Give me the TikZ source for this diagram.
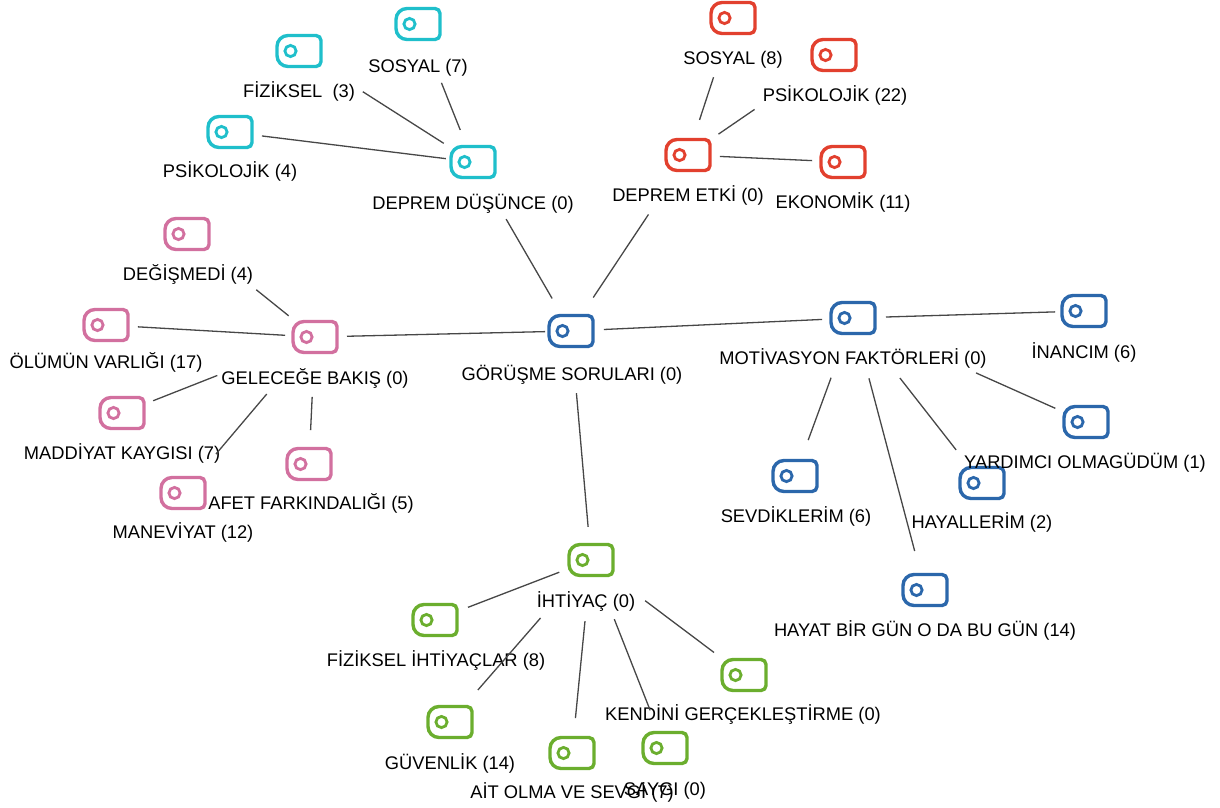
\documentclass[tikz,border=0pt]{standalone}
\usepackage{fontspec}
\setmainfont{Liberation Sans}
\definecolor{ccyan}{HTML}{1FBFCB}
\definecolor{cred}{HTML}{E2402E}
\definecolor{cpink}{HTML}{D2709F}
\definecolor{cblue}{HTML}{2B67AB}
\definecolor{cgreen}{HTML}{6BAE2E}
\definecolor{linec}{HTML}{474747}
\tikzset{
  iconbox/.style={rectangle, minimum width=47pt, minimum height=34pt, inner sep=0pt, draw=none},
  lbl/.style={inner sep=0pt, anchor=base, yshift=-6.6pt, text=black, font=\fontsize{18.3pt}{20pt}\selectfont},
  conn/.style={draw=linec, line width=1.3pt}
}
\newcommand{\codeicon}[3]{%
  \node[iconbox] (#1) at (#2) {};
  \draw[#3, line width=3.4pt] (#1.center) ++(0,-15.5) [rounded corners=5pt] -- ++(22,0) -- ++(0,31) -- ++(-22,0) [rounded corners=11pt] -- ++(-22,0) -- ++(0,-31) -- cycle;
  \draw[#3, line width=2.8pt] (#1.center) ++(-8.5,0) circle[radius=5.6pt];
}
\newcommand{\codelabel}[3]{%
  \node[lbl] (#1L) at (#2) {#3};
}
\newcommand{\conn}[4]{%
  \draw[conn, shorten <=#3pt, shorten >=#4pt] (#1.center) -- (#2.center);
}
\begin{document}
\begin{tikzpicture}[x=1pt, y=-1pt]
\useasboundingbox (0,0) rectangle (1220,807);
% icons
\codeicon{gor}{571,331}{cblue}
\codeicon{ddu}{473,162}{ccyan}
\codeicon{det}{688,155}{cred}
\codeicon{gel}{315,337}{cpink}
\codeicon{mot}{853,318}{cblue}
\codeicon{iht}{591,560}{cgreen}
\codeicon{sosa}{418,24}{ccyan}
\codeicon{fiza}{299,51}{ccyan}
\codeicon{psia}{230,132}{ccyan}
\codeicon{sosb}{733,18}{cred}
\codeicon{psib}{834,55}{cred}
\codeicon{eko}{843,162}{cred}
\codeicon{deg}{187,234}{cpink}
\codeicon{olu}{106,325}{cpink}
\codeicon{mad}{122,413}{cpink}
\codeicon{afet}{309,464}{cpink}
\codeicon{man}{183,493}{cpink}
\codeicon{inan}{1084,311}{cblue}
\codeicon{yard}{1086,422}{cblue}
\codeicon{hay}{982,483}{cblue}
\codeicon{sev}{795,476}{cblue}
\codeicon{hbg}{925,590}{cblue}
\codeicon{fizi}{435,620}{cgreen}
\codeicon{ken}{744,675}{cgreen}
\codeicon{guv}{450,722}{cgreen}
\codeicon{ait}{572,753}{cgreen}
\codeicon{say}{665,748}{cgreen}
% labels
\codelabel{sosa}{418,66}{SOSYAL (7)}
\codelabel{fiza}{299,91}{FİZİKSEL\ \ (3)}
\codelabel{psia}{230,171}{PSİKOLOJİK (4)}
\codelabel{ddu}{473,203}{DEPREM DÜŞÜNCE (0)}
\codelabel{sosb}{733,58}{SOSYAL (8)}
\codelabel{psib}{835,95}{PSİKOLOJİK (22)}
\codelabel{det}{688,195}{DEPREM ETKİ (0)}
\codelabel{eko}{843,202}{EKONOMİK (11)}
\codelabel{deg}{188,274}{DEĞİŞMEDİ (4)}
\codelabel{olu}{106,362}{ÖLÜMÜN VARLIĞI (17)}
\codelabel{gel}{315,378}{GELECEĞE BAKIŞ (0)}
\codelabel{mad}{122,453}{MADDİYAT KAYGISI (7)}
\codelabel{afet}{311,503}{AFET FARKINDALIĞI (5)}
\codelabel{man}{183,532}{MANEVİYAT (12)}
\codelabel{gor}{572,374}{GÖRÜŞME SORULARI (0)}
\codelabel{mot}{853,358}{MOTİVASYON FAKTÖRLERİ (0)}
\codelabel{inan}{1084,352}{İNANCIM (6)}
\codelabel{yard}{1085,462}{YARDIMCI OLMAGÜDÜM (1)}
\codelabel{hay}{982,522}{HAYALLERİM (2)}
\codelabel{sev}{796,516}{SEVDİKLERİM (6)}
\codelabel{hbg}{925,630}{HAYAT BİR GÜN O DA BU GÜN (14)}
\codelabel{iht}{586,601}{İHTİYAÇ (0)}
\codelabel{fizi}{436,660}{FİZİKSEL İHTİYAÇLAR (8)}
\codelabel{ken}{743,714}{KENDİNİ GERÇEKLEŞTİRME (0)}
\codelabel{guv}{450,763}{GÜVENLİK (14)}
\codelabel{ait}{572,792}{AİT OLMA VE SEVGİ (7)}
\codelabel{say}{665,789}{SAYGI (0)}
% connectors
\conn{gor}{ddu}{37.6}{66}
\conn{gor}{det}{40.2}{71.4}
\conn{gor}{gel}{26}{32}
\conn{gor}{mot}{33}{31}
\conn{gor}{iht}{62.4}{33.2}
\conn{ddu}{sosa}{34.5}{63.3}
\conn{ddu}{fiza}{34.7}{75.7}
\conn{ddu}{psia}{27.3}{32.2}
\conn{det}{sosb}{37}{62.3}
\conn{det}{psib}{36.9}{96.3}
\conn{det}{eko}{32}{31}
\conn{gel}{deg}{33.8}{88.9}
\conn{gel}{olu}{30}{32}
\conn{gel}{mad}{105}{33.5}
\conn{gel}{afet}{60}{34}
\conn{gel}{man}{74.7}{51}
\conn{mot}{inan}{33}{29}
\conn{mot}{yard}{134.7}{33.6}
\conn{mot}{hay}{76.2}{42}
\conn{mot}{sev}{63.6}{38.3}
\conn{mot}{hbg}{62.4}{40.3}
\conn{iht}{fizi}{34}{35.3}
\conn{iht}{ken}{67.7}{37.5}
\conn{iht}{guv}{76.8}{42.5}
\conn{iht}{ait}{61.4}{35.1}
\conn{iht}{say}{63.6}{40.5}
\end{tikzpicture}
\end{document}
